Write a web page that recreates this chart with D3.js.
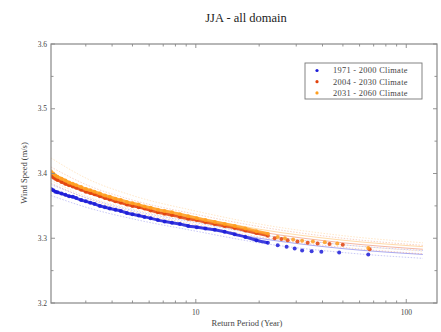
<!DOCTYPE html>
<html><head><meta charset="utf-8">
<script src="https://cdn.jsdelivr.net/npm/d3@7"></script>
<style>body{margin:0;background:#fff}svg{display:block}</style>
</head><body><svg id="c" width="441" height="332"></svg>
<script>
// ---- data ----
const seriesNames = ["1971 - 2000 Climate", "2004 - 2030 Climate", "2031 - 2060 Climate"];
const seriesColors = ["#1c1cd8", "#e2420c", "#ff9e1e"];

const densePeriods = [2.05,2.1,2.15,2.2,2.3,2.4,2.5,2.6,2.7,2.85,3.0,3.15,3.3,3.5,3.7,3.9,4.15,4.4,4.7,5.0,5.35,5.7,6.1,6.6,7.1,7.7,8.4,9.2,10.1,11.1,12.3,13.7,15.3,17.2,19.4,22.0];
const blueDense   = [3.376,3.374,3.372,3.371,3.369,3.367,3.365,3.364,3.362,3.359,3.357,3.355,3.353,3.350,3.348,3.346,3.344,3.342,3.339,3.337,3.335,3.333,3.331,3.328,3.326,3.324,3.322,3.319,3.317,3.315,3.313,3.310,3.306,3.302,3.297,3.293];
const redDense    = [3.397,3.394,3.392,3.390,3.387,3.384,3.382,3.380,3.378,3.375,3.372,3.370,3.368,3.365,3.362,3.360,3.357,3.355,3.352,3.350,3.348,3.346,3.343,3.340,3.338,3.336,3.333,3.330,3.328,3.325,3.322,3.319,3.316,3.312,3.308,3.304];
const orangeDense = [3.403,3.400,3.397,3.395,3.392,3.389,3.386,3.384,3.382,3.379,3.376,3.374,3.372,3.369,3.366,3.364,3.361,3.359,3.356,3.354,3.352,3.349,3.347,3.344,3.342,3.340,3.337,3.334,3.331,3.328,3.325,3.322,3.319,3.315,3.311,3.307];

const blueTailPeriods   = [24.5, 27, 29.5, 32, 35.5, 39.5, 48, 66];
const blueTail          = [3.289, 3.287, 3.284, 3.281, 3.280, 3.279, 3.278, 3.275];
const redTailPeriods    = [23.7, 25.5, 27.3, 30.4, 34, 37.9, 43.2, 49.9, 67];
const redTail           = [3.300, 3.299, 3.297, 3.295, 3.293, 3.292, 3.291, 3.290, 3.283];
const orangeTailPeriods = [24.5, 26.5, 29, 32, 36, 41, 47, 66];
const orangeTail        = [3.302, 3.300, 3.298, 3.296, 3.295, 3.294, 3.292, 3.285];

const fitPeriods  = [2.05, 3, 5, 10, 20, 50, 120];
const blueFit     = [3.375, 3.356, 3.337, 3.318, 3.300, 3.284, 3.275];
const blueUpper   = [3.383, 3.363, 3.343, 3.324, 3.306, 3.290, 3.281];
const blueLower   = [3.366, 3.348, 3.330, 3.311, 3.293, 3.278, 3.269];
const redFit      = [3.397, 3.372, 3.350, 3.329, 3.310, 3.293, 3.283];
const redUpper    = [3.410, 3.383, 3.359, 3.337, 3.318, 3.300, 3.289];
const redLower    = [3.385, 3.362, 3.341, 3.321, 3.302, 3.286, 3.276];
const orangeFit   = [3.402, 3.376, 3.354, 3.333, 3.314, 3.297, 3.287];
const orangeUpper = [3.424, 3.393, 3.366, 3.342, 3.322, 3.304, 3.293];
const orangeLower = [3.389, 3.365, 3.345, 3.325, 3.306, 3.290, 3.280];

const xMajorTicks = [10, 100];
const xMinorTicks = [3,4,5,6,7,8,9,20,30,40,50,60,70,80,90];
const yMajorTicks = [3.2, 3.3, 3.4, 3.5, 3.6];
const yMinorTicks = [3.25, 3.35, 3.45, 3.55];

// ---- layout ----
const L = 51, R = 437, T = 44, B = 303;
const svg = d3.select("#c");
const x = d3.scaleLog().domain([2.05, 140]).range([L, R]);
const y = d3.scaleLinear().domain([3.2, 3.6]).range([B, T]);
const serif = "'Liberation Serif','DejaVu Serif',serif";

svg.append("defs").append("clipPath").attr("id","clip")
  .append("rect").attr("x",L).attr("y",T).attr("width",R-L).attr("height",B-T);
const plot = svg.append("g").attr("clip-path","url(#clip)");

const series = [
  {dense: blueDense, tp: blueTailPeriods, tv: blueTail, fit: blueFit, up: blueUpper, lo: blueLower},
  {dense: redDense, tp: redTailPeriods, tv: redTail, fit: redFit, up: redUpper, lo: redLower},
  {dense: orangeDense, tp: orangeTailPeriods, tv: orangeTail, fit: orangeFit, up: orangeUpper, lo: orangeLower}
];
const line = d3.line().x(d => x(d[0])).y(d => y(d[1])).curve(d3.curveMonotoneX);

// confidence bounds & fits
series.forEach((s, i) => {
  const c = seriesColors[i];
  [s.up, s.lo].forEach(arr => {
    plot.append("path").datum(fitPeriods.map((p, k) => [p, arr[k]]))
      .attr("d", line).attr("fill","none").attr("stroke", c)
      .attr("stroke-width", 0.7).attr("stroke-opacity", 0.35).attr("stroke-dasharray","1.5,1.5");
  });
  plot.append("path").datum(fitPeriods.map((p, k) => [p, s.fit[k]]))
    .attr("d", line).attr("fill","none").attr("stroke", c)
    .attr("stroke-width", 0.7).attr("stroke-opacity", 0.55);
});

// empirical points
series.forEach((s, i) => {
  const c = seriesColors[i];
  const pts = densePeriods.map((p, k) => [p, s.dense[k]]).concat(s.tp.map((p, k) => [p, s.tv[k]]));
  plot.append("path").datum(densePeriods.map((p, k) => [p, s.dense[k]]))
    .attr("d", line).attr("fill","none").attr("stroke", c).attr("stroke-width", 3).attr("stroke-opacity",0.85);
  plot.append("g").selectAll("circle").data(pts).join("circle")
    .attr("cx", d => x(d[0])).attr("cy", d => y(d[1])).attr("r", 2)
    .attr("fill", c).attr("fill-opacity", 0.85);
});

// ---- axes box ----
const axisColor = "#888";
const ax = svg.append("g");
ax.append("rect").attr("x",L).attr("y",T).attr("width",R-L).attr("height",B-T)
  .attr("fill","none").attr("stroke",axisColor).attr("stroke-width",1.2);

const tick = (x1,y1,x2,y2) => ax.append("line").attr("x1",x1).attr("y1",y1).attr("x2",x2).attr("y2",y2)
  .attr("stroke",axisColor).attr("stroke-width",0.9);
xMajorTicks.forEach(v => { tick(x(v),B,x(v),B-4); tick(x(v),T,x(v),T+4); });
xMinorTicks.forEach(v => { tick(x(v),B,x(v),B-2.5); tick(x(v),T,x(v),T+2.5); });
yMajorTicks.forEach(v => { tick(L,y(v),L+4,y(v)); tick(R,y(v),R-4,y(v)); });
yMinorTicks.forEach(v => { tick(L,y(v),L+2.5,y(v)); tick(R,y(v),R-2.5,y(v)); });

ax.selectAll("text.xt").data(xMajorTicks).join("text")
  .attr("x", d => x(d)).attr("y", B + 12).attr("text-anchor","middle")
  .attr("font-family", serif).attr("font-size", 7.5).attr("fill","#444").text(d => d);
ax.selectAll("text.yt").data(yMajorTicks).join("text")
  .attr("x", L - 4).attr("y", d => y(d) + 2.5).attr("text-anchor","end")
  .attr("font-family", serif).attr("font-size", 7.5).attr("fill","#444").text(d => d.toFixed(1));

// titles
svg.append("text").attr("x", 246).attr("y", 22).attr("text-anchor","middle")
  .attr("font-family", serif).attr("font-size", 12.5).attr("fill","#222").text("JJA - all domain");
svg.append("text").attr("x", 247).attr("y", 326).attr("text-anchor","middle")
  .attr("font-family", serif).attr("font-size", 8.5).attr("fill","#444").text("Return Period (Year)");
svg.append("text").attr("transform","translate(27,173) rotate(-90)").attr("text-anchor","middle")
  .attr("font-family", serif).attr("font-size", 8.5).attr("fill","#444").text("Wind Speed (m/s)");

// legend
const lg = svg.append("g");
lg.append("rect").attr("x",305).attr("y",63).attr("width",117).attr("height",36)
  .attr("fill","#fff").attr("stroke","#777").attr("stroke-width",0.9);
seriesNames.forEach((n, i) => {
  const yy = 70.5 + i * 11.2;
  lg.append("circle").attr("cx", 317).attr("cy", yy).attr("r", 1.6).attr("fill", seriesColors[i]);
  lg.append("text").attr("x", 333).attr("y", yy + 2.8).attr("font-family", serif)
    .attr("font-size", 8.4).attr("letter-spacing", 0.3).attr("fill","#444").text(n);
});
</script></body></html>
